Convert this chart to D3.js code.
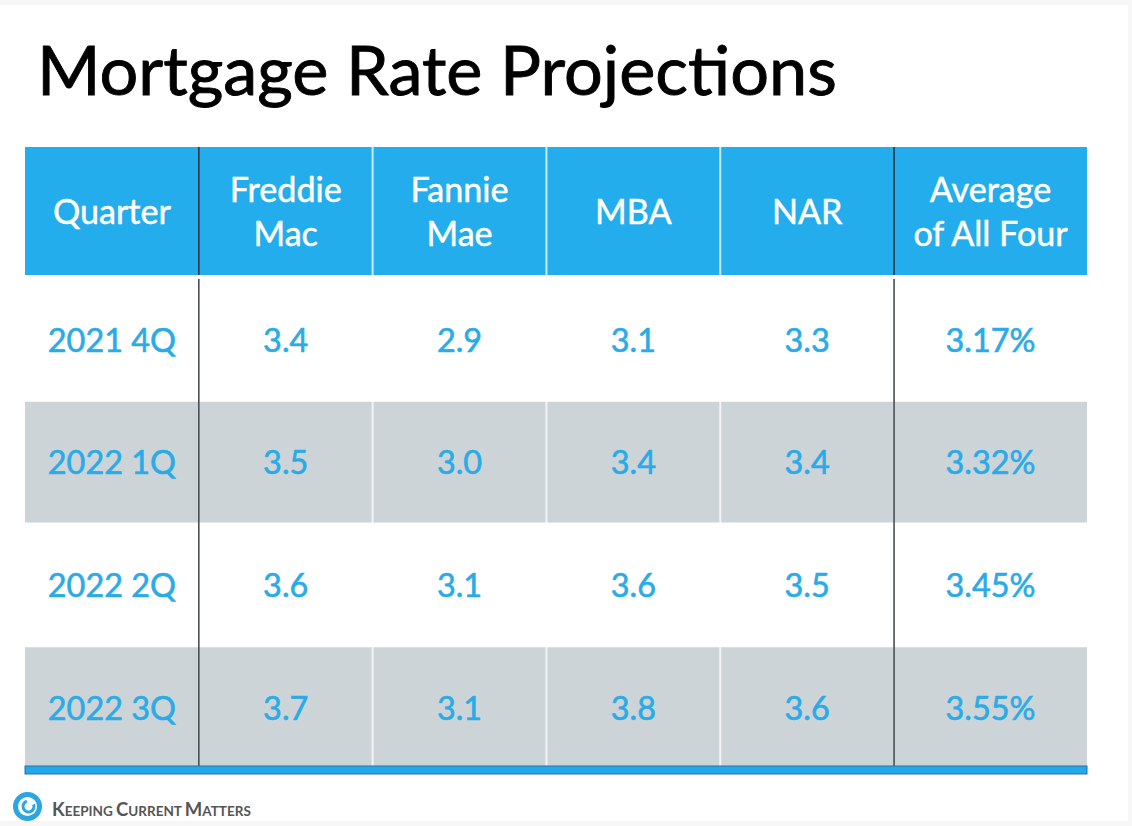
<!DOCTYPE html>
<html lang="en">

<head>
    <meta charset="UTF-8">
    <title>Mortgage Rate Projections</title>
    <style>
        body {
            margin: 0;
            background: #f7f7f7;
        }
    </style>
</head>

<body>

    <script src="https://d3js.org/d3.v7.min.js"></script>

    <div id="my_table"></div>
    <script>
        // table content
        var headers = [["Quarter"], ["Freddie", "Mac"], ["Fannie", "Mae"], ["MBA"], ["NAR"], ["Average", "of All Four"]];
        var quarters = ["2021 4Q", "2022 1Q", "2022 2Q", "2022 3Q"];
        var freddieMac = [3.4, 3.5, 3.6, 3.7];
        var fannieMae = [2.9, 3.0, 3.1, 3.1];
        var mba = [3.1, 3.4, 3.6, 3.8];
        var nar = [3.3, 3.4, 3.5, 3.6];
        var average = [3.17, 3.32, 3.45, 3.55];

        // relative column widths (last column a bit wider)
        var colWeights = [1, 1, 1, 1, 1, 1.11];

        var width = 1132, height = 826;
        var font = "Lato, 'Open Sans', sans-serif";
        var headBlue = "#23adec", textBlue = "#2aabe7", rowGray = "#cdd4d8";

        var svg = d3.select("#my_table")
            .append("svg")
            .attr("width", width)
            .attr("height", height)
            .style("display", "block");

        // slide background
        svg.append("rect")
            .attr("x", 0).attr("y", 5)
            .attr("width", 1128).attr("height", 816)
            .attr("fill", "#fff");

        // fit font size so a text has a given width
        function fitSize(sel, text, target) {
            var t = sel.append("text").attr("font-family", font)
                .style("font-size", "100px").text(text);
            var w = t.node().getComputedTextLength();
            t.remove();
            return 100 * target / w;
        }

        var titleSize = fitSize(svg, "Mortgage Rate Projections", 800);
        svg.append("text")
            .attr("x", 37).attr("y", 95)
            .attr("font-family", font)
            .style("font-size", titleSize + "px")
            .attr("fill", "#000")
            .attr("stroke", "#000").attr("stroke-width", 0.9)
            .text("Mortgage Rate Projections");

        // rows of data
        var rows = quarters.map(function (q, i) {
            return [q, freddieMac[i].toFixed(1), fannieMae[i].toFixed(1), mba[i].toFixed(1), nar[i].toFixed(1), average[i].toFixed(2) + "%"];
        });

        var edges = [0];
        colWeights.forEach(function (w) { edges.push(edges[edges.length - 1] + w); });
        var x = d3.scaleLinear()
            .domain([0, d3.sum(colWeights)])
            .range([25, 1087]);

        var y = d3.scaleBand()
            .domain(quarters)
            .range([278, 769]);

        var headTop = 147, headBottom = 275, tableBottom = 766;

        // header
        svg.append("rect")
            .attr("x", x(0)).attr("y", headTop)
            .attr("width", x(edges[6]) - x(0)).attr("height", headBottom - headTop)
            .attr("fill", headBlue);

        // grey striped rows
        svg.selectAll(".stripe")
            .data(quarters.filter(function (d, i) { return i % 2 == 1; }))
            .enter()
            .append("rect")
            .attr("x", x(0))
            .attr("y", function (d) { return y(d) + 1; })
            .attr("width", x(edges[6]) - x(0))
            .attr("height", function (d) { return Math.min(y(d) + y.bandwidth() - 1, tableBottom) - y(d) - 1; })
            .attr("fill", rowGray);

        // light column separators
        [2, 3, 4].forEach(function (c) {
            svg.append("line")
                .attr("x1", x(edges[c])).attr("x2", x(edges[c]))
                .attr("y1", headTop).attr("y2", tableBottom)
                .attr("stroke", "#fff").attr("stroke-opacity", 0.75)
                .attr("stroke-width", 2);
        });

        // dark column separators
        [1, 5].forEach(function (c) {
            svg.append("line")
                .attr("x1", x(edges[c])).attr("x2", x(edges[c]))
                .attr("y1", headTop).attr("y2", headBottom)
                .attr("stroke", "#2b3a45").attr("stroke-width", 1.6);
            svg.append("line")
                .attr("x1", x(edges[c])).attr("x2", x(edges[c]))
                .attr("y1", headBottom + 4).attr("y2", tableBottom)
                .attr("stroke", "#4a4f55").attr("stroke-width", 1.6);
        });

        // header text
        var headSize = fitSize(svg, "Quarter", 118);
        headers.forEach(function (lines, c) {
            var cx = (x(edges[c]) + x(edges[c + 1])) / 2;
            var t = svg.append("text")
                .attr("text-anchor", "middle")
                .attr("font-family", font)
                .style("font-size", headSize + "px")
                .attr("fill", "#fff")
                .attr("stroke", "#fff").attr("stroke-width", 0.5);
            lines.forEach(function (l, k) {
                var cy = lines.length == 1 ? 212 : 190 + k * 44;
                t.append("tspan").attr("x", cx).attr("y", cy).attr("dy", "0.35em").text(l);
            });
        });

        // cell text
        var cellSize = fitSize(svg, "3.17%", 90);
        rows.forEach(function (r, i) {
            svg.selectAll(null)
                .data(r)
                .enter()
                .append("text")
                .attr("x", function (d, c) { return (x(edges[c]) + x(edges[c + 1])) / 2; })
                .attr("y", y(quarters[i]) + y.bandwidth() / 2 + 1)
                .attr("dy", "0.35em")
                .attr("text-anchor", "middle")
                .attr("font-family", font)
                .style("font-size", cellSize + "px")
                .attr("fill", textBlue)
                .attr("stroke", textBlue).attr("stroke-width", 0.6)
                .text(function (d) { return d; });
        });

        // bottom bar
        svg.append("rect")
            .attr("x", x(0)).attr("y", tableBottom)
            .attr("width", x(edges[6]) - x(0)).attr("height", 8)
            .attr("fill", "#23a8ea")
            .attr("stroke", "#2f6fa8").attr("stroke-width", 1);

        // logo
        var p = d3.path();
        p.arc(27.5, 806.5, 12, 0, 2 * Math.PI);
        svg.append("path").attr("d", p.toString())
            .attr("fill", "none").attr("stroke", "#2ba6e2").attr("stroke-width", 5);
        var p2 = d3.path();
        p2.arc(28.5, 806.5, 5.5, -0.4, 4.4);
        svg.append("path").attr("d", p2.toString())
            .attr("fill", "none").attr("stroke", "#2ba6e2").attr("stroke-width", 3);

        var logo = svg.append("text")
            .attr("x", 52).attr("y", 816)
            .attr("font-family", font)
            .attr("fill", "#555")
            .style("font-weight", "bold");
        [["K", "EEPING "], ["C", "URRENT "], ["M", "ATTERS"]].forEach(function (w) {
            logo.append("tspan").style("font-size", "18.5px").text(w[0]);
            logo.append("tspan").style("font-size", "13.5px").text(w[1]);
        });
    </script>
</body>

</html>
